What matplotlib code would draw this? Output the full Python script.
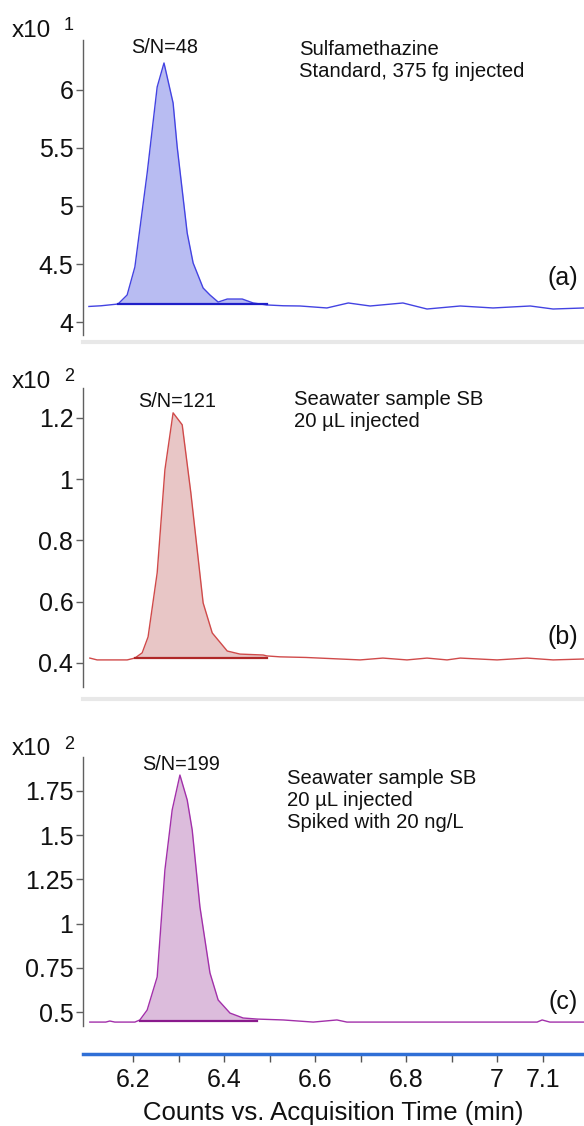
import numpy as np
import matplotlib
matplotlib.use("Agg")
import matplotlib.pyplot as plt

plt.rcParams['font.family'] = ['Liberation Sans', 'DejaVu Sans']

# ---------------- data ----------------
# Panel (a): Sulfamethazine standard
t_a = [6.103, 6.130, 6.167, 6.187, 6.204, 6.231, 6.253, 6.268, 6.288, 6.297, 6.319,
       6.332, 6.354, 6.369, 6.387, 6.407, 6.440, 6.464, 6.494, 6.530, 6.567, 6.626,
       6.673, 6.721, 6.793, 6.846, 6.919, 6.991, 7.073, 7.123, 7.191]
v_a = [4.134, 4.140, 4.155, 4.233, 4.474, 5.284, 6.026, 6.233, 5.888, 5.509, 4.767,
       4.509, 4.293, 4.233, 4.172, 4.198, 4.198, 4.164, 4.147, 4.140, 4.138, 4.121,
       4.164, 4.138, 4.164, 4.112, 4.138, 4.121, 4.138, 4.112, 4.121]
# Panel (b): Seawater sample SB
t_b = [6.105, 6.121, 6.187, 6.204, 6.220, 6.233, 6.253, 6.270, 6.288, 6.308, 6.327,
       6.354, 6.374, 6.407, 6.435, 6.486, 6.494, 6.523, 6.580, 6.699, 6.749, 6.802,
       6.846, 6.890, 6.919, 7.000, 7.066, 7.123, 7.191]
v_b = [0.416, 0.410, 0.410, 0.416, 0.433, 0.485, 0.694, 1.030, 1.216, 1.177, 0.955,
       0.596, 0.498, 0.439, 0.429, 0.426, 0.423, 0.420, 0.418, 0.410, 0.416, 0.410,
       0.416, 0.410, 0.416, 0.410, 0.416, 0.410, 0.413]
# Panel (c): Seawater sample SB spiked
t_c = [6.105, 6.140, 6.149, 6.160, 6.204, 6.215, 6.231, 6.253, 6.270, 6.286, 6.303,
       6.319, 6.330, 6.347, 6.369, 6.387, 6.413, 6.442, 6.473, 6.530, 6.596, 6.648,
       6.670, 7.088, 7.099, 7.116, 7.191]
v_c = [0.443, 0.443, 0.449, 0.443, 0.443, 0.455, 0.511, 0.698, 1.303, 1.643, 1.840,
       1.699, 1.529, 1.094, 0.721, 0.568, 0.494, 0.466, 0.460, 0.455, 0.443, 0.455,
       0.443, 0.443, 0.455, 0.443, 0.443]

# integration baselines: (start, end, level)
integ_a = (6.167, 6.494, 4.152)
integ_b = (6.204, 6.494, 0.416)
integ_c = (6.215, 6.473, 0.449)

yticks_a = [4, 4.5, 5, 5.5, 6]
yticks_b = [0.4, 0.6, 0.8, 1, 1.2]
yticks_c = [0.5, 0.75, 1, 1.25, 1.5, 1.75]
xticks_major = [6.2, 6.4, 6.6, 6.8, 7.0, 7.1]
xtick_labels = ["6.2", "6.4", "6.6", "6.8", "7", "7.1"]
xticks_minor = [6.3, 6.5, 6.7, 6.9]

exponents = ["1", "2", "2"]
sn_labels = ["S/N=48", "S/N=121", "S/N=199"]
notes = [["Sulfamethazine", "Standard, 375 fg injected"],
         ["Seawater sample SB", "20 \u00b5L injected"],
         ["Seawater sample SB", "20 \u00b5L injected", "Spiked with 20 ng/L"]]
panel_tags = ["(a)", "(b)", "(c)"]
xlabel = "Counts vs. Acquisition Time (min)"

# ---------------- layout ----------------
W, H = 584, 1126
fig = plt.figure(figsize=(W / 100, H / 100), dpi=100)
fig.patch.set_facecolor('white')

def fx(x):
    return x / W

def fy(y):
    return 1 - y / H

def rect(left, top, right, bottom):
    return [fx(left), fy(bottom), (right - left) / W, (bottom - top) / H]

xlim = (6.090, 7.191)

panels = [
    dict(t=t_a, v=v_a, integ=integ_a, yt=yticks_a, rect=rect(83, 40, 584, 342),
         ylim=(3.8276, 6.431), spine_lo=3.888,
         line='#4343e2', fill='#b8bcf2', dark='#1f1fc8'),
    dict(t=t_b, v=v_b, integ=integ_b, yt=yticks_b, rect=rect(83, 388, 584, 699),
         ylim=(0.2825, 1.297), spine_lo=0.3217,
         line='#d04a4a', fill='#e8c6c6', dark='#b02828'),
    dict(t=t_c, v=v_c, integ=integ_c, yt=yticks_c, rect=rect(83, 757, 584, 1054),
         ylim=(0.2625, 1.942), spine_lo=0.4208,
         line='#a230aa', fill='#dcbcdc', dark='#8a1a8c'),
]

axes = []
for i, p in enumerate(panels):
    ax = fig.add_axes(p['rect'])
    axes.append(ax)
    t = np.array(p['t'])
    v = np.array(p['v'])
    s, e, lvl = p['integ']
    mask = (t >= s - 1e-9) & (t <= e + 1e-9)
    ax.fill_between(t[mask], v[mask], lvl, color=p['fill'], lw=0, zorder=1)
    ax.plot(t, v, color=p['line'], lw=1.0, zorder=3)
    ax.plot([s, e], [lvl, lvl], color=p['dark'], lw=1.6, zorder=4)
    ax.set_xlim(*xlim)
    ax.set_ylim(*p['ylim'])
    ax.set_facecolor('none')
    for side in ['top', 'right']:
        ax.spines[side].set_visible(False)
    ax.spines['left'].set_color('#606060')
    ax.spines['left'].set_linewidth(1.0)
    ax.spines['left'].set_bounds(p['spine_lo'], p['ylim'][1])
    ax.set_yticks(p['yt'])
    ax.set_yticklabels(['%g' % y for y in p['yt']])
    ax.tick_params(axis='y', direction='out', length=5, width=1, color='#606060',
                   labelsize=18, pad=2, labelcolor='#111111')
    if i < 2:
        ax.spines['bottom'].set_color('#e8e8e8')
        ax.spines['bottom'].set_linewidth(3)
        ax.set_xticks([])
    else:
        ax.spines['bottom'].set_color('#2f6fd6')
        ax.spines['bottom'].set_linewidth(2.5)
        ax.set_xticks(xticks_major)
        ax.set_xticklabels(xtick_labels)
        ax.set_xticks(xticks_minor, minor=True)
        ax.tick_params(axis='x', which='both', direction='out', length=6, width=1,
                       color='#555555', labelsize=18, pad=4, labelcolor='#111111')

# ---------------- texts ----------------
txt = dict(color='#111111')
x10_base = [37, 388, 755]
sup_base = [30, 381, 749]
for i in range(3):
    fig.text(fx(12), fy(x10_base[i]), "x10", fontsize=17.5, va='baseline', ha='left', **txt)
    fig.text(fx(64), fy(sup_base[i]), exponents[i], fontsize=13, va='baseline', ha='left', **txt)

sn_pos = [(165, 53), (177, 407), (181, 770)]
for i in range(3):
    fig.text(fx(sn_pos[i][0]), fy(sn_pos[i][1]), sn_labels[i], fontsize=14.3,
             ha='center', va='baseline', **txt)

note_left = [299, 294, 287]
note_base = [[55, 77], [405, 427], [784, 806, 828]]
for i in range(3):
    for j, line in enumerate(notes[i]):
        fig.text(fx(note_left[i]), fy(note_base[i][j]), line, fontsize=14.6,
                 ha='left', va='baseline', **txt)

tag_pos = [278, 637, 1002]
for i in range(3):
    fig.text(fx(578), fy(tag_pos[i]), panel_tags[i], fontsize=18,
             ha='right', va='center', **txt)

fig.text(fx(333), fy(1120), xlabel, fontsize=18.5, ha='center', va='baseline', **txt)

fig.savefig('out.png', dpi=100, facecolor='white')
